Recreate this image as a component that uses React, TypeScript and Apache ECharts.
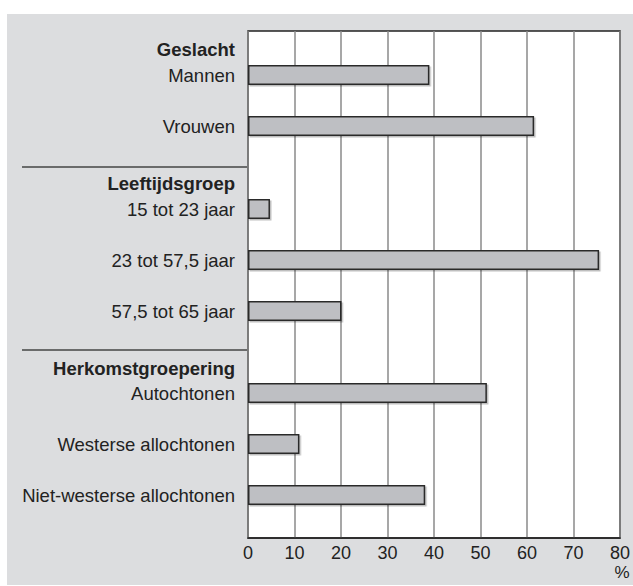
import React, { useEffect, useRef } from "react";
import * as echarts from "echarts";

const groupTitles = ["Geslacht", "Leeftijdsgroep", "Herkomstgroepering"];
const geslachtCats = ["Mannen", "Vrouwen"];
const geslachtVals = [38.8, 61.2];
const leeftijdCats = ["15 tot 23 jaar", "23 tot 57,5 jaar", "57,5 tot 65 jaar"];
const leeftijdVals = [4.7, 75.1, 20];
const herkomstCats = ["Autochtonen", "Westerse allochtonen", "Niet-westerse allochtonen"];
const herkomstVals = [51.1, 11, 37.9];
const xMin = 0;
const xMax = 80;
const xInterval = 10;
const unitLabel = "%";

const FONT = "'Liberation Sans', Arial, Helvetica, sans-serif";
const TXT = "#222";
const PLOT_LEFT = 248;
const PLOT_RIGHT = 622;
const PLOT_TOP = 31;
const PLOT_BOTTOM = 538;
const W = 633;
const H = 586;

export default function App() {
  const ref = useRef<HTMLDivElement>(null);
  useEffect(() => {
    if (!ref.current) return;
    const chart = echarts.init(ref.current, undefined, { renderer: "svg" });
    const groups = [
      { cats: geslachtCats, vals: geslachtVals, top: 49.5, headerY: 49 },
      { cats: leeftijdCats, vals: leeftijdVals, top: 183.5, headerY: 183 },
      { cats: herkomstCats, vals: herkomstVals, top: 367.5, headerY: 368 },
    ];
    const slot = 51;
    const grids: any[] = [
      {
        left: PLOT_LEFT,
        right: W - PLOT_RIGHT,
        top: PLOT_TOP,
        bottom: H - PLOT_BOTTOM,
        show: true,
        backgroundColor: "#ffffff",
        borderColor: "#222",
        borderWidth: 1.5,
      },
    ];
    const xAxes: any[] = [
      {
        type: "value",
        gridIndex: 0,
        min: xMin,
        max: xMax,
        interval: xInterval,
        axisLine: { show: true, lineStyle: { color: "#222", width: 1.5 } },
        axisTick: { show: false },
        splitLine: { show: true, lineStyle: { color: "#8a8a8a", width: 1.5 } },
        axisLabel: { color: TXT, fontSize: 18, fontFamily: FONT, margin: 6 },
      },
    ];
    const yAxes: any[] = [{ type: "value", gridIndex: 0, show: false }];
    const series: any[] = [];
    groups.forEach((g, i) => {
      const gi = i + 1;
      grids.push({
        left: PLOT_LEFT,
        right: W - PLOT_RIGHT,
        top: g.top,
        height: g.cats.length * slot,
        show: false,
      });
      xAxes.push({ type: "value", gridIndex: gi, min: xMin, max: xMax, show: false });
      yAxes.push({
        type: "category",
        gridIndex: gi,
        data: g.cats,
        inverse: true,
        axisLine: { show: false },
        axisTick: { show: false },
        splitLine: { show: false },
        axisLabel: { color: TXT, fontSize: 18.5, fontFamily: FONT, margin: 13 },
      });
      series.push({
        type: "bar",
        xAxisIndex: gi,
        yAxisIndex: gi,
        data: g.vals,
        barWidth: 20,
        itemStyle: {
          color: "#bebfc3",
          borderColor: "#2a2a2a",
          borderWidth: 1.5,
          shadowColor: "rgba(0,0,0,0.25)",
          shadowOffsetX: 1.5,
          shadowOffsetY: 1.5,
          shadowBlur: 0,
        },
      });
    });
    const graphic: any[] = [
      {
        type: "rect",
        z: -100,
        shape: { x: 7, y: 14, width: W - 7, height: 585 - 14 },
        style: { fill: "#dcdddf" },
        silent: true,
      },
      {
        type: "line",
        shape: { x1: 22, y1: 167, x2: PLOT_LEFT, y2: 167 },
        style: { stroke: "#444", lineWidth: 1.5 },
      },
      {
        type: "line",
        shape: { x1: 22, y1: 350, x2: PLOT_LEFT, y2: 350 },
        style: { stroke: "#444", lineWidth: 1.5 },
      },
      {
        type: "text",
        x: PLOT_RIGHT,
        y: 572,
        style: {
          text: unitLabel,
          fill: TXT,
          font: `17px ${FONT}`,
          align: "center",
          verticalAlign: "middle",
        },
      },
    ];
    groups.forEach((g, i) => {
      graphic.push({
        type: "text",
        x: 235,
        y: g.headerY,
        style: {
          text: groupTitles[i],
          fill: TXT,
          font: `bold 18.5px ${FONT}`,
          align: "right",
          verticalAlign: "middle",
        },
      });
    });
    chart.setOption({
      animation: false,
      backgroundColor: "#ffffff",
      grid: grids,
      xAxis: xAxes,
      yAxis: yAxes,
      series,
      graphic,
    });
    return () => chart.dispose();
  }, []);
  return (
    <div
      ref={ref}
      style={{ position: "absolute", left: 0, top: 0, width: W, height: H }}
    />
  );
}
